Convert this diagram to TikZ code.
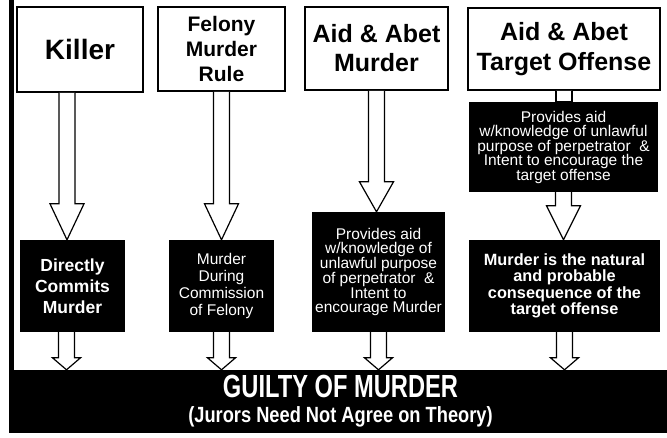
\documentclass[tikz,border=0pt]{standalone}
\usepackage{fontspec}
\setmainfont{Liberation Sans}
\usetikzlibrary{calc}

% hollow block arrow: [head half width]{from}{to}{head length}
\newcommand{\hollowarrow}[4][17pt]{%
  \path[arrowline] let \p1=#2, \p2=#3 in
    (\x1-8pt,\y1) -- (\x1-8pt,\y2+#4) -- (\x1-#1,\y2+#4) -- (\x1,\y2)
    -- (\x1+#1,\y2+#4) -- (\x1+8pt,\y2+#4) -- (\x1+8pt,\y1);}

\begin{document}
\begin{tikzpicture}[
    x=1pt, y=-1pt,
    charge/.style={rectangle, draw, line width=1.8pt, fill=white, align=center, inner sep=0pt, font=\bfseries},
    fact/.style={rectangle, fill=black, text=white, align=center, inner sep=0pt},
    verdict/.style={rectangle, fill=black, text=white, align=center, inner sep=0pt},
    arrowline/.style={draw, fill=white, line width=1.2pt, line join=miter},
]
    \fill[white] (0,0) rectangle (667,437);
    \useasboundingbox (0,0) rectangle (667,437);
    \fill (9,0) rectangle (14,433);

    % Theories
    \node[charge, minimum width=126, minimum height=85, font=\bfseries\fontsize{28}{30}\selectfont] (killer) at (80,49.5) {Killer};
    \node[charge, minimum width=127, minimum height=84, font=\bfseries\fontsize{21}{25}\selectfont] (felony) at (221.5,49) {Felony\\Murder\\Rule};
    \node[charge, minimum width=143, minimum height=83, font=\bfseries\fontsize{25}{29}\selectfont] (abetmurder) at (376.5,48.5) {Aid \& Abet\\Murder};
    \node[charge, minimum width=192, minimum height=82, font=\bfseries\fontsize{25}{30}\selectfont] (abettarget) at (564,49) {Aid \& Abet\\Target Offense};

    % Elements
    \node[fact, minimum width=105, minimum height=92, font=\bfseries\fontsize{17.5}{21}\selectfont] (direct) at (72.5,286) {Directly\\Commits\\Murder};
    \node[fact, minimum width=105, minimum height=92, font=\fontsize{15.5}{17}\selectfont] (during) at (221.5,286) {Murder\\During\\Commission\\of Felony};
    \node[fact, minimum width=133, minimum height=120, font=\fontsize{15.5}{14.7}\selectfont] (aidmurder) at (378.5,272) {Provides aid\\w/knowledge of\\unlawful purpose\\of perpetrator \ \&\\Intent to\\encourage Murder};
    \node[fact, minimum width=189, minimum height=90, font=\fontsize{15.5}{14.5}\selectfont] (aidtarget) at (563.5,147) {Provides aid\\w/knowledge of unlawful\\purpose of perpetrator \ \&\\Intent to encourage the\\target offense};
    \node[fact, minimum width=191, minimum height=92, font=\bfseries\fontsize{16.3}{16.5}\selectfont] (natural) at (564.5,286) {Murder is the natural\\and probable\\consequence of the\\target offense};

    % Verdict
    \node[verdict, minimum width=653, minimum height=63, font=\bfseries\fontsize{22}{25}\selectfont] (guilty) at (340.5,401.5)
        {\scalebox{0.74}[1]{\fontsize{32}{32}\selectfont GUILTY OF MURDER}\\\scalebox{0.83}[1]{(Jurors Need Not Agree on Theory)}};

    % Arrows
    \hollowarrow{($(killer.south)+(-13,0)$)}{(direct.north)}{36pt}
    \hollowarrow{(felony.south)}{(during.north)}{36pt}
    \hollowarrow{(abetmurder.south)}{(aidmurder.north)}{30pt}
    \hollowarrow[8pt]{(abettarget.south)}{(aidtarget.north)}{0pt}
    \hollowarrow{(aidtarget.south)}{(natural.north)}{34pt}
    \hollowarrow[14pt]{($(direct.south)+(-6,0)$)}{(guilty.north)}{12pt}
    \hollowarrow[14pt]{(during.south)}{(guilty.north)}{12pt}
    \hollowarrow[14pt]{(aidmurder.south)}{(guilty.north)}{12pt}
    \hollowarrow[14pt]{(natural.south)}{(guilty.north)}{12pt}
\end{tikzpicture}
\end{document}
